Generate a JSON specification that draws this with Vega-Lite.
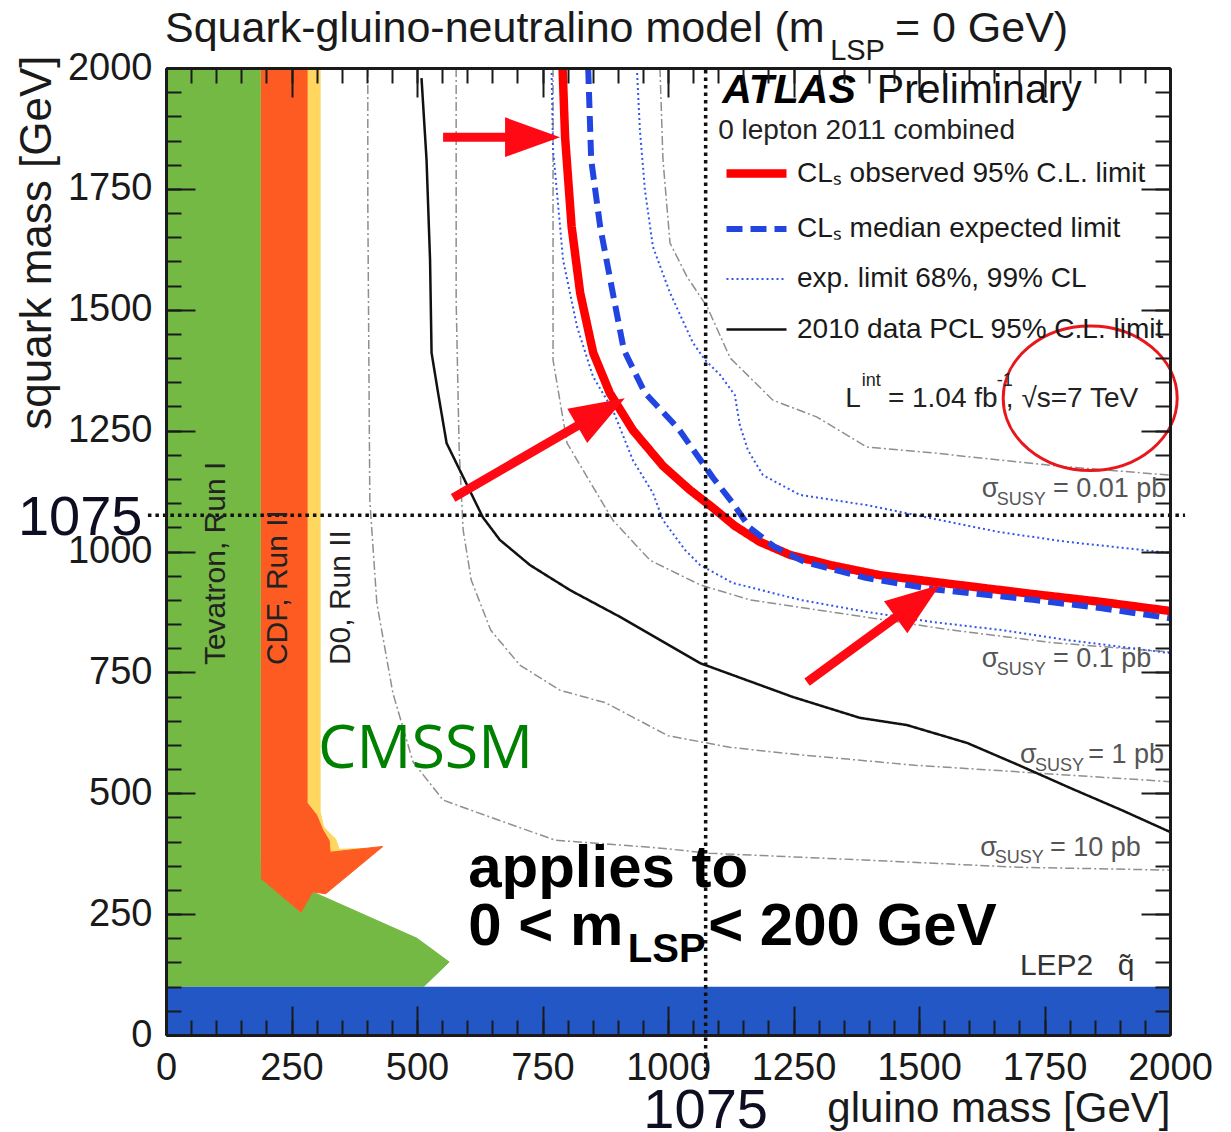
{
  "$schema": "https://vega.github.io/schema/vega-lite/v6.json",
  "width": 1004,
  "height": 967,
  "autosize": {"type": "none"},
  "padding": {"left": 166, "top": 68, "right": 61, "bottom": 97},
  "background": "white",
  "config": {"view": {"stroke": null}, "font": "Liberation Sans"},
  "datasets": {
    "tevatron": [
      {"i": 0, "x": 0, "y": 100}, {"i": 1, "x": 0, "y": 2000}, {"i": 2, "x": 189, "y": 2000},
      {"i": 3, "x": 189, "y": 324}, {"i": 4, "x": 269, "y": 254}, {"i": 5, "x": 292, "y": 296},
      {"i": 6, "x": 500, "y": 200}, {"i": 7, "x": 564, "y": 151}, {"i": 8, "x": 513, "y": 100}
    ],
    "d0": [
      {"i": 0, "x": 189, "y": 2000}, {"i": 1, "x": 307, "y": 2000}, {"i": 2, "x": 307, "y": 462},
      {"i": 3, "x": 314, "y": 430}, {"i": 4, "x": 338, "y": 405}, {"i": 5, "x": 345, "y": 384},
      {"i": 6, "x": 398, "y": 386}, {"i": 7, "x": 330, "y": 360}, {"i": 8, "x": 189, "y": 360}
    ],
    "cdf": [
      {"i": 0, "x": 189, "y": 2000}, {"i": 1, "x": 281, "y": 2000}, {"i": 2, "x": 281, "y": 480},
      {"i": 3, "x": 300, "y": 455}, {"i": 4, "x": 312, "y": 425}, {"i": 5, "x": 325, "y": 402},
      {"i": 6, "x": 327, "y": 378}, {"i": 7, "x": 432, "y": 390}, {"i": 8, "x": 318, "y": 292},
      {"i": 9, "x": 292, "y": 296}, {"i": 10, "x": 269, "y": 254}, {"i": 11, "x": 189, "y": 324}
    ],
    "lep2": [{"x": 0, "y": 0, "x2": 2000, "y2": 100}],
    "xsec": [
      {"c": "10pb", "i": 0, "x": 402, "y": 2000}, {"c": "10pb", "i": 1, "x": 402, "y": 1725},
      {"c": "10pb", "i": 2, "x": 404, "y": 1415}, {"c": "10pb", "i": 3, "x": 406, "y": 1106},
      {"c": "10pb", "i": 4, "x": 420, "y": 893}, {"c": "10pb", "i": 5, "x": 452, "y": 707},
      {"c": "10pb", "i": 6, "x": 492, "y": 565}, {"c": "10pb", "i": 7, "x": 552, "y": 486},
      {"c": "10pb", "i": 8, "x": 618, "y": 461}, {"c": "10pb", "i": 9, "x": 775, "y": 403},
      {"c": "10pb", "i": 10, "x": 980, "y": 387}, {"c": "10pb", "i": 11, "x": 1082, "y": 376},
      {"c": "10pb", "i": 12, "x": 1390, "y": 362}, {"c": "10pb", "i": 13, "x": 1697, "y": 347},
      {"c": "10pb", "i": 14, "x": 2000, "y": 341},
      {"c": "1pb", "i": 0, "x": 578, "y": 2000}, {"c": "1pb", "i": 1, "x": 578, "y": 1520},
      {"c": "1pb", "i": 2, "x": 584, "y": 1210}, {"c": "1pb", "i": 3, "x": 592, "y": 1044},
      {"c": "1pb", "i": 4, "x": 608, "y": 941}, {"c": "1pb", "i": 5, "x": 647, "y": 837},
      {"c": "1pb", "i": 6, "x": 705, "y": 765}, {"c": "1pb", "i": 7, "x": 785, "y": 713},
      {"c": "1pb", "i": 8, "x": 876, "y": 687}, {"c": "1pb", "i": 9, "x": 1000, "y": 619},
      {"c": "1pb", "i": 10, "x": 1123, "y": 595}, {"c": "1pb", "i": 11, "x": 1267, "y": 579},
      {"c": "1pb", "i": 12, "x": 1492, "y": 558}, {"c": "1pb", "i": 13, "x": 1761, "y": 540},
      {"c": "1pb", "i": 14, "x": 2000, "y": 524},
      {"c": "0.1pb", "i": 0, "x": 771, "y": 2000}, {"c": "0.1pb", "i": 1, "x": 771, "y": 1700},
      {"c": "0.1pb", "i": 2, "x": 771, "y": 1396}, {"c": "0.1pb", "i": 3, "x": 799, "y": 1224},
      {"c": "0.1pb", "i": 4, "x": 839, "y": 1154}, {"c": "0.1pb", "i": 5, "x": 890, "y": 1065},
      {"c": "0.1pb", "i": 6, "x": 964, "y": 982}, {"c": "0.1pb", "i": 7, "x": 1064, "y": 931},
      {"c": "0.1pb", "i": 8, "x": 1163, "y": 900}, {"c": "0.1pb", "i": 9, "x": 1363, "y": 869},
      {"c": "0.1pb", "i": 10, "x": 1562, "y": 838}, {"c": "0.1pb", "i": 11, "x": 1761, "y": 812},
      {"c": "0.1pb", "i": 12, "x": 2000, "y": 792},
      {"c": "0.01pb", "i": 0, "x": 984, "y": 2000}, {"c": "0.01pb", "i": 1, "x": 990, "y": 1810},
      {"c": "0.01pb", "i": 2, "x": 1004, "y": 1638}, {"c": "0.01pb", "i": 3, "x": 1038, "y": 1568},
      {"c": "0.01pb", "i": 4, "x": 1078, "y": 1506}, {"c": "0.01pb", "i": 5, "x": 1124, "y": 1400},
      {"c": "0.01pb", "i": 6, "x": 1209, "y": 1313}, {"c": "0.01pb", "i": 7, "x": 1297, "y": 1278},
      {"c": "0.01pb", "i": 8, "x": 1396, "y": 1216}, {"c": "0.01pb", "i": 9, "x": 1528, "y": 1204},
      {"c": "0.01pb", "i": 10, "x": 1661, "y": 1189}, {"c": "0.01pb", "i": 11, "x": 1795, "y": 1175},
      {"c": "0.01pb", "i": 12, "x": 2000, "y": 1158}
    ],
    "limits": [
      {"s": "band", "c": "m1", "i": 0, "x": 768, "y": 2000}, {"s": "band", "c": "m1", "i": 1, "x": 771, "y": 1830},
      {"s": "band", "c": "m1", "i": 2, "x": 779, "y": 1741}, {"s": "band", "c": "m1", "i": 3, "x": 791, "y": 1603},
      {"s": "band", "c": "m1", "i": 4, "x": 819, "y": 1464}, {"s": "band", "c": "m1", "i": 5, "x": 851, "y": 1361},
      {"s": "band", "c": "m1", "i": 6, "x": 890, "y": 1293}, {"s": "band", "c": "m1", "i": 7, "x": 930, "y": 1189},
      {"s": "band", "c": "m1", "i": 8, "x": 970, "y": 1121}, {"s": "band", "c": "m1", "i": 9, "x": 990, "y": 1065},
      {"s": "band", "c": "m1", "i": 10, "x": 1034, "y": 1003}, {"s": "band", "c": "m1", "i": 11, "x": 1064, "y": 972},
      {"s": "band", "c": "m1", "i": 12, "x": 1129, "y": 935}, {"s": "band", "c": "m1", "i": 13, "x": 1263, "y": 900},
      {"s": "band", "c": "m1", "i": 14, "x": 1396, "y": 875}, {"s": "band", "c": "m1", "i": 15, "x": 1528, "y": 854},
      {"s": "band", "c": "m1", "i": 16, "x": 1661, "y": 838}, {"s": "band", "c": "m1", "i": 17, "x": 1795, "y": 817},
      {"s": "band", "c": "m1", "i": 18, "x": 2000, "y": 790},
      {"s": "band", "c": "p1", "i": 0, "x": 938, "y": 2000}, {"s": "band", "c": "p1", "i": 1, "x": 944, "y": 1872},
      {"s": "band", "c": "p1", "i": 2, "x": 954, "y": 1748}, {"s": "band", "c": "p1", "i": 3, "x": 970, "y": 1630},
      {"s": "band", "c": "p1", "i": 4, "x": 1004, "y": 1535}, {"s": "band", "c": "p1", "i": 5, "x": 1050, "y": 1431},
      {"s": "band", "c": "p1", "i": 6, "x": 1074, "y": 1396}, {"s": "band", "c": "p1", "i": 7, "x": 1104, "y": 1365},
      {"s": "band", "c": "p1", "i": 8, "x": 1133, "y": 1324}, {"s": "band", "c": "p1", "i": 9, "x": 1143, "y": 1262},
      {"s": "band", "c": "p1", "i": 10, "x": 1159, "y": 1210}, {"s": "band", "c": "p1", "i": 11, "x": 1189, "y": 1158},
      {"s": "band", "c": "p1", "i": 12, "x": 1263, "y": 1117}, {"s": "band", "c": "p1", "i": 13, "x": 1396, "y": 1096},
      {"s": "band", "c": "p1", "i": 14, "x": 1528, "y": 1068}, {"s": "band", "c": "p1", "i": 15, "x": 1661, "y": 1040},
      {"s": "band", "c": "p1", "i": 16, "x": 1795, "y": 1020}, {"s": "band", "c": "p1", "i": 17, "x": 2000, "y": 997},
      {"s": "pcl", "c": "pcl", "i": 0, "x": 509, "y": 1979}, {"s": "pcl", "c": "pcl", "i": 1, "x": 519, "y": 1810},
      {"s": "pcl", "c": "pcl", "i": 2, "x": 526, "y": 1603}, {"s": "pcl", "c": "pcl", "i": 3, "x": 529, "y": 1411},
      {"s": "pcl", "c": "pcl", "i": 4, "x": 542, "y": 1328}, {"s": "pcl", "c": "pcl", "i": 5, "x": 559, "y": 1224},
      {"s": "pcl", "c": "pcl", "i": 6, "x": 592, "y": 1154}, {"s": "pcl", "c": "pcl", "i": 7, "x": 631, "y": 1071},
      {"s": "pcl", "c": "pcl", "i": 8, "x": 665, "y": 1024}, {"s": "pcl", "c": "pcl", "i": 9, "x": 725, "y": 972},
      {"s": "pcl", "c": "pcl", "i": 10, "x": 805, "y": 920}, {"s": "pcl", "c": "pcl", "i": 11, "x": 904, "y": 865},
      {"s": "pcl", "c": "pcl", "i": 12, "x": 984, "y": 817}, {"s": "pcl", "c": "pcl", "i": 13, "x": 1064, "y": 769},
      {"s": "pcl", "c": "pcl", "i": 14, "x": 1249, "y": 699}, {"s": "pcl", "c": "pcl", "i": 15, "x": 1382, "y": 656},
      {"s": "pcl", "c": "pcl", "i": 16, "x": 1476, "y": 641}, {"s": "pcl", "c": "pcl", "i": 17, "x": 1596, "y": 604},
      {"s": "pcl", "c": "pcl", "i": 18, "x": 1699, "y": 558}, {"s": "pcl", "c": "pcl", "i": 19, "x": 1801, "y": 511},
      {"s": "pcl", "c": "pcl", "i": 20, "x": 1904, "y": 465}, {"s": "pcl", "c": "pcl", "i": 21, "x": 2000, "y": 420},
      {"s": "obs", "c": "obs", "i": 0, "x": 790, "y": 2000}, {"s": "obs", "c": "obs", "i": 1, "x": 795, "y": 1857},
      {"s": "obs", "c": "obs", "i": 2, "x": 808, "y": 1672}, {"s": "obs", "c": "obs", "i": 3, "x": 825, "y": 1535},
      {"s": "obs", "c": "obs", "i": 4, "x": 851, "y": 1411}, {"s": "obs", "c": "obs", "i": 5, "x": 884, "y": 1328},
      {"s": "obs", "c": "obs", "i": 6, "x": 930, "y": 1251}, {"s": "obs", "c": "obs", "i": 7, "x": 990, "y": 1177},
      {"s": "obs", "c": "obs", "i": 8, "x": 1044, "y": 1127}, {"s": "obs", "c": "obs", "i": 9, "x": 1090, "y": 1090},
      {"s": "obs", "c": "obs", "i": 10, "x": 1133, "y": 1053}, {"s": "obs", "c": "obs", "i": 11, "x": 1183, "y": 1020},
      {"s": "obs", "c": "obs", "i": 12, "x": 1243, "y": 993}, {"s": "obs", "c": "obs", "i": 13, "x": 1323, "y": 972},
      {"s": "obs", "c": "obs", "i": 14, "x": 1422, "y": 951}, {"s": "obs", "c": "obs", "i": 15, "x": 1562, "y": 933},
      {"s": "obs", "c": "obs", "i": 16, "x": 1727, "y": 912}, {"s": "obs", "c": "obs", "i": 17, "x": 1861, "y": 896},
      {"s": "obs", "c": "obs", "i": 18, "x": 2000, "y": 877},
      {"s": "exp", "c": "exp", "i": 0, "x": 841, "y": 2000}, {"s": "exp", "c": "exp", "i": 1, "x": 847, "y": 1810},
      {"s": "exp", "c": "exp", "i": 2, "x": 865, "y": 1671}, {"s": "exp", "c": "exp", "i": 3, "x": 890, "y": 1535},
      {"s": "exp", "c": "exp", "i": 4, "x": 912, "y": 1417}, {"s": "exp", "c": "exp", "i": 5, "x": 954, "y": 1328},
      {"s": "exp", "c": "exp", "i": 6, "x": 1020, "y": 1255}, {"s": "exp", "c": "exp", "i": 7, "x": 1090, "y": 1152},
      {"s": "exp", "c": "exp", "i": 8, "x": 1129, "y": 1100}, {"s": "exp", "c": "exp", "i": 9, "x": 1163, "y": 1049},
      {"s": "exp", "c": "exp", "i": 10, "x": 1213, "y": 1009}, {"s": "exp", "c": "exp", "i": 11, "x": 1273, "y": 978},
      {"s": "exp", "c": "exp", "i": 12, "x": 1396, "y": 945}, {"s": "exp", "c": "exp", "i": 13, "x": 1528, "y": 922},
      {"s": "exp", "c": "exp", "i": 14, "x": 1727, "y": 900}, {"s": "exp", "c": "exp", "i": 15, "x": 1861, "y": 883},
      {"s": "exp", "c": "exp", "i": 16, "x": 2000, "y": 862}
    ],
    "cross": [
      {"x": 1075, "y": -90, "x2": 1075, "y2": 2000},
      {"x": -36, "y": 1075, "x2": 2030, "y2": 1075}
    ],
    "arrows": [
      {"x": 785, "y": 1857, "x2": 552, "y2": 1857},
      {"x": 914, "y": 1317, "x2": 572, "y2": 1111},
      {"x": 1542, "y": 931, "x2": 1277, "y2": 730}
    ],
    "ring": [{"x": 1841, "y": 1317}],
    "labels": [
      {"k": "ttl", "t": "Squark-gluino-neutralino model (m", "x": -2, "y": 2054},
      {"k": "ttl", "t": "= 0 GeV)", "x": 1452, "y": 2054},
      {"k": "ttls", "t": "LSP", "x": 1323, "y": 2017},
      {"k": "atl", "t": "ATLAS", "x": 1108, "y": 1928},
      {"k": "pre", "t": "Preliminary", "x": 1416, "y": 1928},
      {"k": "inf", "t": "0 lepton 2011 combined", "x": 1100, "y": 1853},
      {"k": "inf", "t": "L", "x": 1353, "y": 1299},
      {"k": "inf", "t": "= 1.04 fb", "x": 1438, "y": 1299},
      {"k": "inf", "t": ", √s=7 TeV", "x": 1673, "y": 1299},
      {"k": "sup", "t": "int", "x": 1386, "y": 1342},
      {"k": "sup", "t": "-1", "x": 1655, "y": 1342},
      {"k": "sig", "t": "σ", "x": 1625, "y": 1113},
      {"k": "sig", "t": "= 0.01 pb", "x": 1767, "y": 1113},
      {"k": "sig", "t": "σ", "x": 1625, "y": 761},
      {"k": "sig", "t": "= 0.1 pb", "x": 1767, "y": 761},
      {"k": "sig", "t": "σ", "x": 1701, "y": 563},
      {"k": "sig", "t": "= 1 pb", "x": 1837, "y": 563},
      {"k": "sig", "t": "σ", "x": 1622, "y": 370},
      {"k": "sig", "t": "= 10 pb", "x": 1761, "y": 370},
      {"k": "sgs", "t": "SUSY", "x": 1655, "y": 1096},
      {"k": "sgs", "t": "SUSY", "x": 1655, "y": 745},
      {"k": "sgs", "t": "SUSY", "x": 1731, "y": 546},
      {"k": "sgs", "t": "SUSY", "x": 1651, "y": 356},
      {"k": "lep", "t": "LEP2", "x": 1701, "y": 124},
      {"k": "lep", "t": "q̃", "x": 1896, "y": 124},
      {"k": "big", "t": "applies to", "x": 602, "y": 306},
      {"k": "big", "t": "0 < m", "x": 602, "y": 186},
      {"k": "big", "t": "< 200 GeV", "x": 1080, "y": 186},
      {"k": "bgs", "t": "LSP", "x": 920, "y": 151},
      {"k": "cms", "t": "CMSSM", "x": 303, "y": 552},
      {"k": "rot", "t": "Tevatron, Run I", "x": 100, "y": 765},
      {"k": "rot", "t": "CDF, Run II", "x": 223, "y": 765},
      {"k": "rot", "t": "D0, Run II", "x": 349, "y": 765},
      {"k": "num", "t": "1075", "x": -171, "y": 1034},
      {"k": "num", "t": "1075", "x": 1075, "y": -192}
    ]
  },
  "encoding": {
    "x": {"field": "x", "type": "quantitative", "scale": {"domain": [0, 2000], "nice": false, "zero": false}, "axis": null},
    "y": {"field": "y", "type": "quantitative", "scale": {"domain": [0, 2000], "nice": false, "zero": false}, "axis": null}
  },
  "layer": [
    {
      "data": {"name": "tevatron"},
      "mark": {"type": "line", "fill": "#73b944", "stroke": "#73b944", "strokeWidth": 1},
      "encoding": {
        "x": {"field": "x", "type": "quantitative", "scale": {"domain": [0, 2000], "nice": false, "zero": false},
          "axis": {"orient": "bottom", "values": [0,50,100,150,200,250,300,350,400,450,500,550,600,650,700,750,800,850,900,950,1000,1050,1100,1150,1200,1250,1300,1350,1400,1450,1500,1550,1600,1650,1700,1750,1800,1850,1900,1950,2000],
            "labels": false, "domain": false, "grid": false, "title": null, "tickSize": -15, "tickWidth": 2, "tickColor": "#1a1a1a", "zindex": 1}},
        "y": {"field": "y", "type": "quantitative", "scale": {"domain": [0, 2000], "nice": false, "zero": false},
          "axis": {"orient": "left", "values": [0,50,100,150,200,250,300,350,400,450,500,550,600,650,700,750,800,850,900,950,1000,1050,1100,1150,1200,1250,1300,1350,1400,1450,1500,1550,1600,1650,1700,1750,1800,1850,1900,1950,2000],
            "labels": false, "domain": false, "grid": false, "title": null, "tickSize": -15, "tickWidth": 2, "tickColor": "#1a1a1a", "zindex": 1}},
        "order": {"field": "i", "type": "quantitative"}
      }
    },
    {
      "data": {"name": "d0"},
      "mark": {"type": "line", "fill": "#fed660", "stroke": "#fed660", "strokeWidth": 1},
      "encoding": {
        "x": {"field": "x", "type": "quantitative", "scale": {"domain": [0, 2000], "nice": false, "zero": false},
          "axis": {"orient": "top", "values": [0,50,100,150,200,250,300,350,400,450,500,550,600,650,700,750,800,850,900,950,1000,1050,1100,1150,1200,1250,1300,1350,1400,1450,1500,1550,1600,1650,1700,1750,1800,1850,1900,1950,2000],
            "labels": false, "domain": false, "grid": false, "title": null, "tickSize": -15, "tickWidth": 2, "tickColor": "#1a1a1a", "zindex": 1}},
        "y": {"field": "y", "type": "quantitative", "scale": {"domain": [0, 2000], "nice": false, "zero": false},
          "axis": {"orient": "right", "values": [0,50,100,150,200,250,300,350,400,450,500,550,600,650,700,750,800,850,900,950,1000,1050,1100,1150,1200,1250,1300,1350,1400,1450,1500,1550,1600,1650,1700,1750,1800,1850,1900,1950,2000],
            "labels": false, "domain": false, "grid": false, "title": null, "tickSize": -15, "tickWidth": 2, "tickColor": "#1a1a1a", "zindex": 1}},
        "order": {"field": "i", "type": "quantitative"}
      }
    },
    {
      "data": {"name": "cdf"},
      "mark": {"type": "line", "fill": "#fe5b22", "stroke": "#fe5b22", "strokeWidth": 1},
      "encoding": {
        "x": {"field": "x", "type": "quantitative", "scale": {"domain": [0, 2000], "nice": false, "zero": false},
          "axis": {"orient": "top", "values": [0,250,500,750,1000,1250,1500,1750,2000],
            "labels": false, "domain": true, "domainWidth": 3, "domainColor": "#1a1a1a", "grid": false, "title": null, "tickSize": -29, "tickWidth": 2, "tickColor": "#1a1a1a", "zindex": 1}},
        "y": {"field": "y", "type": "quantitative", "scale": {"domain": [0, 2000], "nice": false, "zero": false},
          "axis": {"orient": "right", "values": [0,250,500,750,1000,1250,1500,1750,2000],
            "labels": false, "domain": true, "domainWidth": 3, "domainColor": "#1a1a1a", "grid": false, "title": null, "tickSize": -29, "tickWidth": 2, "tickColor": "#1a1a1a", "zindex": 1}},
        "order": {"field": "i", "type": "quantitative"}
      }
    },
    {
      "data": {"name": "lep2"},
      "mark": {"type": "rect", "color": "#2357c5"},
      "encoding": {
        "x": {"field": "x", "type": "quantitative", "scale": {"domain": [0, 2000], "nice": false, "zero": false},
          "axis": {"orient": "bottom", "values": [0,250,500,750,1000,1250,1500,1750,2000], "format": "d",
            "domain": true, "domainWidth": 3, "domainColor": "#1a1a1a", "grid": false,
            "tickSize": -29, "tickWidth": 2, "tickColor": "#1a1a1a",
            "labelFont": "Liberation Sans", "labelFontSize": 38, "labelColor": "#1a1a1a", "labelPadding": 43, "labelFlush": false, "labelOverlap": false,
            "title": "gluino mass [GeV]", "titleFont": "Liberation Sans", "titleFontSize": 42, "titleFontWeight": "normal", "titleColor": "#1a1a1a",
            "titleAnchor": "end", "titleAlign": "right", "titleBaseline": "alphabetic", "titleX": 1004, "titleY": 86, "zindex": 1}},
        "x2": {"field": "x2"},
        "y": {"field": "y", "type": "quantitative", "scale": {"domain": [0, 2000], "nice": false, "zero": false},
          "axis": {"orient": "left", "values": [0,250,500,750,1000,1250,1500,1750,2000], "format": "d",
            "domain": true, "domainWidth": 3, "domainColor": "#1a1a1a", "grid": false,
            "tickSize": -29, "tickWidth": 2, "tickColor": "#1a1a1a",
            "labelFont": "Liberation Sans", "labelFontSize": 38, "labelColor": "#1a1a1a", "labelPadding": 43, "labelFlush": false, "labelOverlap": false,
            "title": "squark mass [GeV]", "titleFont": "Liberation Sans", "titleFontSize": 44, "titleFontWeight": "normal", "titleColor": "#1a1a1a",
            "titleAngle": 270, "titleAnchor": "end", "titleAlign": "right", "titleBaseline": "alphabetic", "titleX": -116, "titleY": -13, "zindex": 1}},
        "y2": {"field": "y2"}
      }
    },
    {
      "data": {"name": "xsec"},
      "mark": {"type": "line", "color": "#8f8f8f", "strokeWidth": 1.5, "strokeDash": [9, 3, 2, 3]},
      "encoding": {
        "detail": {"field": "c"},
        "order": {"field": "i", "type": "quantitative"}
      }
    },
    {
      "data": {"name": "limits"},
      "mark": {"type": "line", "strokeCap": "butt", "strokeJoin": "round"},
      "encoding": {
        "detail": {"field": "c"},
        "order": {"field": "i", "type": "quantitative"},
        "color": {"field": "s", "type": "nominal",
          "scale": {"domain": ["obs", "exp", "band", "pcl"], "range": ["#ff0000", "#2244e0", "#3355ee", "#111111"]},
          "legend": {"orient": "none", "legendX": 556, "legendY": 71, "title": null, "symbolType": "stroke", "symbolSize": 3600,
            "labelFont": "Liberation Sans", "labelFontSize": 28, "labelColor": "#1a1a1a", "labelOffset": 6, "labelLimit": 0, "rowPadding": 5, "padding": 0,
            "labelExpr": "datum.label == 'obs' ? 'CLₛ observed 95% C.L. limit' : datum.label == 'exp' ? 'CLₛ median expected limit' : datum.label == 'band' ? 'exp. limit 68%, 99% CL' : '2010 data PCL 95% C.L. limit'"}},
        "strokeDash": {"field": "s", "type": "nominal",
          "scale": {"domain": ["obs", "exp", "band", "pcl"], "range": [[1, 0], [16, 8], [2, 3], [1, 0]]}},
        "strokeWidth": {"field": "s", "type": "nominal",
          "scale": {"type": "ordinal", "domain": ["obs", "exp", "band", "pcl"], "range": [8.5, 6, 2, 2.5]}}
      }
    },
    {
      "data": {"name": "cross"},
      "mark": {"type": "rule", "color": "#111111", "strokeWidth": 3.5, "strokeDash": [3.5, 4]},
      "encoding": {"x2": {"field": "x2"}, "y2": {"field": "y2"}}
    },
    {
      "data": {"name": "arrows"},
      "mark": {"type": "rule", "color": "#ff0a14", "strokeWidth": 9, "strokeCap": "butt", "strokeDash": [0, 30, 3000]},
      "encoding": {"x2": {"field": "x2"}, "y2": {"field": "y2"}}
    },
    {
      "data": {"name": "arrows"},
      "transform": [{"calculate": "atan2(-(datum.y - datum.y2) * 967 / 2000, (datum.x - datum.x2) * 1004 / 2000) * 180 / PI", "as": "ang"}],
      "mark": {"type": "point", "shape": "M0,0L-2,-0.72L-2,0.72Z", "size": 3025, "filled": true, "color": "#ff0a14", "opacity": 1, "strokeWidth": 0},
      "encoding": {"angle": {"field": "ang", "type": "quantitative", "scale": null}}
    },
    {
      "data": {"name": "ring"},
      "mark": {"type": "point", "shape": "M-1,0A1,0.83,0,1,1,1,0A1,0.83,0,1,1,-1,0Z", "size": 30276, "filled": false, "color": "#e8171c", "strokeWidth": 3, "opacity": 1}
    },
    {
      "data": {"name": "labels"},
      "transform": [{"filter": "datum.k == 'ttl'"}],
      "mark": {"type": "text", "fontSize": 43, "align": "left", "baseline": "alphabetic", "color": "#1a1a1a"},
      "encoding": {"text": {"field": "t"}}
    },
    {
      "data": {"name": "labels"},
      "transform": [{"filter": "datum.k == 'ttls'"}],
      "mark": {"type": "text", "fontSize": 29, "align": "left", "baseline": "alphabetic", "color": "#1a1a1a"},
      "encoding": {"text": {"field": "t"}}
    },
    {
      "data": {"name": "labels"},
      "transform": [{"filter": "datum.k == 'atl'"}],
      "mark": {"type": "text", "fontSize": 41, "fontWeight": "bold", "fontStyle": "italic", "align": "left", "baseline": "alphabetic", "color": "#000000"},
      "encoding": {"text": {"field": "t"}}
    },
    {
      "data": {"name": "labels"},
      "transform": [{"filter": "datum.k == 'pre'"}],
      "mark": {"type": "text", "fontSize": 41, "align": "left", "baseline": "alphabetic", "color": "#111111"},
      "encoding": {"text": {"field": "t"}}
    },
    {
      "data": {"name": "labels"},
      "transform": [{"filter": "datum.k == 'inf'"}],
      "mark": {"type": "text", "fontSize": 28, "align": "left", "baseline": "alphabetic", "color": "#222222"},
      "encoding": {"text": {"field": "t"}}
    },
    {
      "data": {"name": "labels"},
      "transform": [{"filter": "datum.k == 'sup'"}],
      "mark": {"type": "text", "fontSize": 18, "align": "left", "baseline": "alphabetic", "color": "#222222"},
      "encoding": {"text": {"field": "t"}}
    },
    {
      "data": {"name": "labels"},
      "transform": [{"filter": "datum.k == 'sig'"}],
      "mark": {"type": "text", "fontSize": 27, "align": "left", "baseline": "alphabetic", "color": "#555555"},
      "encoding": {"text": {"field": "t"}}
    },
    {
      "data": {"name": "labels"},
      "transform": [{"filter": "datum.k == 'sgs'"}],
      "mark": {"type": "text", "fontSize": 18, "align": "left", "baseline": "alphabetic", "color": "#555555"},
      "encoding": {"text": {"field": "t"}}
    },
    {
      "data": {"name": "labels"},
      "transform": [{"filter": "datum.k == 'lep'"}],
      "mark": {"type": "text", "fontSize": 30, "align": "left", "baseline": "alphabetic", "color": "#333333"},
      "encoding": {"text": {"field": "t"}}
    },
    {
      "data": {"name": "labels"},
      "transform": [{"filter": "datum.k == 'big'"}],
      "mark": {"type": "text", "fontSize": 60, "fontWeight": "bold", "align": "left", "baseline": "alphabetic", "color": "#000000"},
      "encoding": {"text": {"field": "t"}}
    },
    {
      "data": {"name": "labels"},
      "transform": [{"filter": "datum.k == 'bgs'"}],
      "mark": {"type": "text", "fontSize": 40, "fontWeight": "bold", "align": "left", "baseline": "alphabetic", "color": "#000000"},
      "encoding": {"text": {"field": "t"}}
    },
    {
      "data": {"name": "labels"},
      "transform": [{"filter": "datum.k == 'cms'"}],
      "mark": {"type": "text", "font": "Open Sans", "fontSize": 61, "align": "left", "baseline": "alphabetic", "color": "#008000"},
      "encoding": {"text": {"field": "t"}}
    },
    {
      "data": {"name": "labels"},
      "transform": [{"filter": "datum.k == 'rot'"}],
      "mark": {"type": "text", "fontSize": 30, "angle": 270, "align": "left", "baseline": "middle", "color": "#222222"},
      "encoding": {"text": {"field": "t"}}
    },
    {
      "data": {"name": "labels"},
      "transform": [{"filter": "datum.k == 'num'"}],
      "mark": {"type": "text", "fontSize": 56, "align": "center", "baseline": "alphabetic", "color": "#0e0e22"},
      "encoding": {"text": {"field": "t"}}
    }
  ],
  "resolve": {"axis": {"x": "independent", "y": "independent"}}
}
